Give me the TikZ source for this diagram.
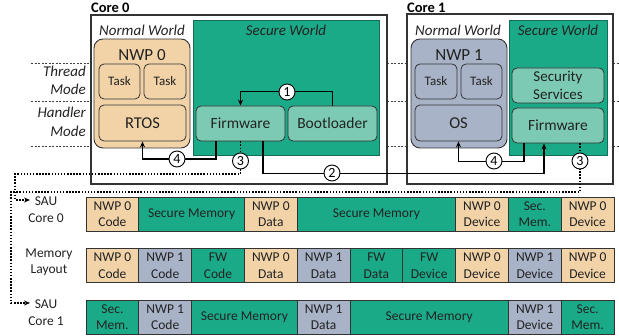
\documentclass[tikz,border=0pt]{standalone}
\usepackage{fontspec}
\setmainfont{Carlito}
\usetikzlibrary{arrows.meta}
\definecolor{tanc}{HTML}{F2D3A8}
\definecolor{nwpblue}{HTML}{A9B3C8}
\definecolor{secgreen}{HTML}{1BAA88}
\definecolor{fwgreen}{HTML}{7CCAB4}
\definecolor{edgec}{HTML}{333333}
\definecolor{txtc}{HTML}{222222}
\newcommand\mcfont{\fontsize{13.5}{16.5}\selectfont}
\newcommand\memcell[6]{\node[cell, fill=#5, minimum width={#3*52.8pt}] (#1) at ({86+52.8*(#2+#3/2)},#4) {#6};}
\tikzset{
  corebox/.style={draw=edgec, line width=1.3pt, inner sep=0},
  world/.style={fill=secgreen, draw=secgreen!65!black, line width=0.8pt, inner sep=0},
  nwpbox/.style={draw=edgec, rounded corners=9pt, line width=0.9pt, inner sep=0},
  innerbox/.style={draw=edgec, rounded corners=5pt, line width=0.8pt, inner sep=0, text=txtc},
  cell/.style={draw=edgec, line width=0.8pt, inner sep=0, minimum height=34pt, align=center, font=\mcfont, text=txtc},
  circ/.style={circle, draw=black, fill=white, line width=0.9pt, minimum size=16pt, inner sep=0, font=\fontsize{14}{14}\selectfont},
  arr/.style={line width=1.5pt, -{Stealth[length=6pt,width=5pt]}},
  dotarr/.style={line width=1.5pt, dash pattern=on 1.5pt off 1.6pt, -{Stealth[length=6pt,width=5pt]}},
  modeline/.style={draw=black!75, line width=0.6pt, dash pattern=on 2pt off 1.5pt},
  modetxt/.style={anchor=base east, inner sep=0, font=\fontsize{15}{18}\itshape, text=txtc},
  worldtxt/.style={inner sep=0, font=\fontsize{15}{18}\itshape, text=txtc},
  coretxt/.style={anchor=base west, inner sep=0, font=\fontsize{14.5}{17}\bfseries},
  sidetxt/.style={align=center, inner sep=0, font=\mcfont, text=txtc},
}
\begin{document}
\begin{tikzpicture}[x=1pt,y=-1pt]
\useasboundingbox (0,0) rectangle (619,336);
% mode lines
\foreach \yy in {63,101,146}{
  \draw[modeline] (31,\yy) -- (91,\yy);
  \draw[modeline] (387,\yy) -- (407,\yy);
  \draw[modeline] (613,\yy) -- (619,\yy);
}
\node[modetxt] (thr1) at (86,77) {Thread};
\node[modetxt] (thr2) at (86,95) {Mode};
\node[modetxt] (han1) at (86,118) {Handler};
\node[modetxt] (han2) at (86,137) {Mode};
% cores
\node[corebox, minimum width=296pt, minimum height=169pt] (core0) at (239,99.5) {};
\node[corebox, minimum width=206pt, minimum height=170pt] (core1) at (510,99) {};
\node[coretxt] (core0lbl) at (91,12.5) {Core 0};
\node[coretxt] (core1lbl) at (407,12.5) {Core 1};
% worlds
\node[world, minimum width=186pt, minimum height=135pt] (sw0) at (286,87.5) {};
\node[world, minimum width=98pt, minimum height=135pt] (sw1) at (558,87.5) {};
\node[worldtxt] (sw0t) at (286,30) {Secure World};
\node[worldtxt] (sw1t) at (558,30) {Secure World};
\node[worldtxt] (nw0t) at (142,30) {Normal World};
\node[worldtxt] (nw1t) at (458,30) {Normal World};
% NWP boxes
\node[nwpbox, fill=tanc, minimum width=96pt, minimum height=109pt] (nwp0) at (142,93.5) {};
\node[inner sep=0, font=\fontsize{17}{20}\selectfont, text=txtc] (nwp0t) at (142,55) {NWP 0};
\node[innerbox, fill=tanc, minimum width=41pt, minimum height=35pt, font=\fontsize{13}{15}\selectfont] (task01) at (119.5,81.5) {Task};
\node[innerbox, fill=tanc, minimum width=42pt, minimum height=35pt, font=\fontsize{13}{15}\selectfont] (task02) at (165,81.5) {Task};
\node[innerbox, fill=tanc, minimum width=87pt, minimum height=36pt, font=\fontsize{16.5}{19}\selectfont] (rtos) at (142.5,123) {RTOS};
\node[nwpbox, fill=nwpblue, minimum width=96pt, minimum height=109pt] (nwp1) at (459,93.5) {};
\node[inner sep=0, font=\fontsize{17}{20}\selectfont, text=txtc] (nwp1t) at (459,55) {NWP 1};
\node[innerbox, fill=nwpblue, minimum width=42pt, minimum height=35pt, font=\fontsize{13}{15}\selectfont] (task11) at (436,81.5) {Task};
\node[innerbox, fill=nwpblue, minimum width=41pt, minimum height=35pt, font=\fontsize{13}{15}\selectfont] (task12) at (481.5,81.5) {Task};
\node[innerbox, fill=nwpblue, minimum width=87pt, minimum height=36pt, font=\fontsize{16.5}{19}\selectfont] (os) at (458.5,123) {OS};
% secure boxes
\node[innerbox, fill=fwgreen, minimum width=89pt, minimum height=35pt, font=\fontsize{15.5}{18}\selectfont] (fw0) at (240.5,123.5) {Firmware};
\node[innerbox, fill=fwgreen, minimum width=89pt, minimum height=35pt, font=\fontsize{15.5}{18}\selectfont] (boot) at (332.5,123.5) {Bootloader};
\node[innerbox, fill=fwgreen, minimum width=92pt, minimum height=35pt, align=center, font=\fontsize{15}{17.5}\selectfont] (secserv) at (558,85.5) {Security\\Services};
\node[innerbox, fill=fwgreen, minimum width=92pt, minimum height=35pt, font=\fontsize{15.5}{18}\selectfont] (fw1) at (558,125.5) {Firmware};
% memory side labels
\node[sidetxt] (sau0) at (46,209.5) {SAU\\Core 0};
\node[sidetxt] (memlay) at (49,262.5) {Memory\\Layout};
\node[sidetxt] (sau1) at (46,312.5) {SAU\\Core 1};
\coordinate (sau0in) at (30,200);
\coordinate (sau1in) at (30,303);
% memory rows
\memcell{a1}{0}{1}{214}{tanc}{NWP 0\\Code}
\memcell{a2}{1}{2}{214}{secgreen}{Secure Memory}
\memcell{a3}{3}{1}{214}{tanc}{NWP 0\\Data}
\memcell{a4}{4}{3}{214}{secgreen}{Secure Memory}
\memcell{a5}{7}{1}{214}{tanc}{NWP 0\\Device}
\memcell{a6}{8}{1}{214}{secgreen}{Sec.\\Mem.}
\memcell{a7}{9}{1}{214}{tanc}{NWP 0\\Device}
\memcell{b1}{0}{1}{265.5}{tanc}{NWP 0\\Code}
\memcell{b2}{1}{1}{265.5}{nwpblue}{NWP 1\\Code}
\memcell{b3}{2}{1}{265.5}{secgreen}{FW\\Code}
\memcell{b4}{3}{1}{265.5}{tanc}{NWP 0\\Data}
\memcell{b5}{4}{1}{265.5}{nwpblue}{NWP 1\\Data}
\memcell{b6}{5}{1}{265.5}{secgreen}{FW\\Data}
\memcell{b7}{6}{1}{265.5}{secgreen}{FW\\Device}
\memcell{b8}{7}{1}{265.5}{tanc}{NWP 0\\Device}
\memcell{b9}{8}{1}{265.5}{nwpblue}{NWP 1\\Device}
\memcell{b10}{9}{1}{265.5}{tanc}{NWP 0\\Device}
\memcell{c1}{0}{1}{317}{secgreen}{Sec.\\Mem.}
\memcell{c2}{1}{1}{317}{nwpblue}{NWP 1\\Code}
\memcell{c3}{2}{2}{317}{secgreen}{Secure Memory}
\memcell{c4}{4}{1}{317}{nwpblue}{NWP 1\\Data}
\memcell{c5}{5}{3}{317}{secgreen}{Secure Memory}
\memcell{c6}{8}{1}{317}{nwpblue}{NWP 1\\Device}
\memcell{c7}{9}{1}{317}{secgreen}{Sec.\\Mem.}
% connectors
\draw[arr] (boot.north) -- ++(0,-14) -| (fw0.north);
\draw[arr] ([xshift=-24.5pt]fw0.south) -- ++(0,17.5) -| (rtos.south);
\draw[arr] ([xshift=22.5pt]fw0.south) -- ++(0,32) -| ([xshift=-14pt]fw1.south);
\draw[arr] ([xshift=-34pt]fw1.south) -- ++(0,18) -| (os.south);
\draw[dotarr] (fw0.south) |- (15,174) |- (sau0in);
\draw[dotarr] ([xshift=22pt]fw1.south) |- (11,192) |- (sau1in);
% step circles
\node[circ] (s1) at (287,92) {1};
\node[circ] (s4a) at (177,159) {4};
\node[circ] (s2) at (332,173) {2};
\node[circ] (s4b) at (494,161) {4};
\node[circ] (s3a) at (240.5,161) {3};
\node[circ] (s3b) at (580,161) {3};
\end{tikzpicture}
\end{document}
